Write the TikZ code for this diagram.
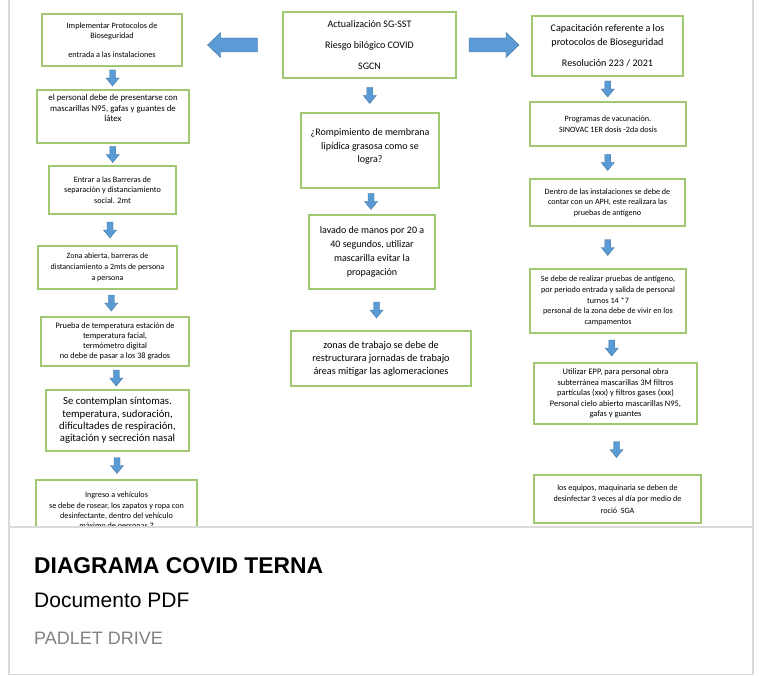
\documentclass[tikz,border=0pt]{standalone}
\usepackage{fontspec}
\setmainfont{Liberation Sans}
\newfontfamily\calibri{Carlito}
\usetikzlibrary{calc}

\definecolor{boxgreen}{RGB}{160,200,115}
\definecolor{arrowblue}{RGB}{91,155,213}
\definecolor{arrowedge}{RGB}{65,113,156}
\definecolor{cardgray}{RGB}{218,218,218}
\definecolor{subgray}{RGB}{130,130,130}

\newcommand{\boxfont}[2]{\calibri\fontsize{#1}{#2}\selectfont}

% small block arrow halfway between two boxes
\newcommand{\flowdown}[2]{%
  \coordinate (m) at ($(#1.south)!0.5!(#2.north)$);
  \filldraw[arrowbody] ($(m)+(-3,-8)$) -- ++(6,0) -- ++(0,8) -- ++(3.5,0)
    -- ++(-6.5,8) -- ++(-6.5,-8) -- ++(3.5,0) -- cycle;}

% big block arrow, #3 = 1 points right, -1 points left
\newcommand{\flowside}[3]{%
  \coordinate (m) at ($(#1)!0.5!(#2)$);
  \begin{scope}[shift={(m)}, xscale=#3]
    \filldraw[arrowbody] (-25,-7) -- (12,-7) -- (12,-12.5) -- (25,0)
      -- (12,12.5) -- (12,7) -- (-25,7) -- cycle;
  \end{scope}}

\begin{document}
\begin{tikzpicture}[x=1pt, y=-1pt,
    box/.style={draw=boxgreen, line width=1.3pt, fill=white, align=center, inner sep=2pt},
    arrowbody/.style={fill=arrowblue, draw=arrowedge, line width=0.4pt},
    caption/.style={anchor=base west, inner sep=0pt}]
    \useasboundingbox (0,0) rectangle (759,676);

    \begin{scope}
    \clip (9,0) rectangle (753,527);

    % left column
    \node[box, minimum width=140, minimum height=52, font=\boxfont{8.2}{10.5}]
        (imp) at (112,40) {Implementar Protocolos de\\Bioseguridad\\[8pt]entrada a las instalaciones};
    \node[box, minimum width=152, minimum height=53, font=\boxfont{8.8}{10.5}]
        (n95) at (113,116.5) {el personal debe de presentarse con\\mascarillas N95, gafas y guantes de\\l\'atex\\[6pt]\mbox{}};
    \node[box, minimum width=127, minimum height=48, font=\boxfont{8.2}{10.5}]
        (barr) at (112.5,190) {Entrar a las Barreras de\\separaci\'on y distanciamiento\\social. 2mt};
    \node[box, minimum width=139, minimum height=43, font=\boxfont{8}{11}]
        (zona) at (107.5,267.5) {Zona abierta, barreras de\\distanciamiento a 2mts de persona\\a persona};
    \node[box, minimum width=148, minimum height=49, font=\boxfont{8.3}{10}]
        (temp) at (115,341.5) {Prueba de temperatura estaci\'on de\\temperatura facial,\\term\'ometro digital\\no debe de pasar a los 38 grados};
    \node[box, minimum width=143, minimum height=61, font=\boxfont{10.7}{12.4}]
        (sint) at (117.5,420.5) {Se contemplan s\'intomas.\\temperatura, sudoraci\'on,\\dificultades de respiraci\'on,\\agitaci\'on y secreci\'on nasal};
    \node[box, minimum width=161, minimum height=62, font=\boxfont{8.15}{10.3}]
        (veh) at (116.5,511) {Ingreso a veh\'iculos\\se debe de rosear, los zapatos y ropa con\\desinfectante, dentro del veh\'iculo\\m\'aximo de personas 7};

    % middle column
    \node[box, minimum width=173, minimum height=66, font=\boxfont{10}{11}]
        (act) at (369.5,45) {Actualizaci\'on SG-SST\\[10pt]Riesgo bil\'ogico COVID\\[10pt]SGCN};
    \node[box, minimum width=138, minimum height=75, font=\boxfont{10}{13.5}]
        (memb) at (370,150.5) {¿Rompimiento de membrana\\lip\'idica grasosa como se\\logra?\\[-4pt]\mbox{}};
    \node[box, minimum width=126, minimum height=74, font=\boxfont{10}{13.8}]
        (lav) at (372,252) {lavado de manos por 20 a\\40 segundos, utilizar\\mascarilla evitar la\\propagaci\'on};
    \node[box, minimum width=180, minimum height=55, font=\boxfont{10.2}{13}]
        (zon) at (381,358.5) {zonas de trabajo se debe de\\restructurara jornadas de trabajo\\\'areas mitigar las aglomeraciones};

    % right column
    \node[box, minimum width=151, minimum height=60, font=\boxfont{10.1}{14}]
        (cap) at (607.5,46) {Capacitaci\'on referente a los\\protocolos de Bioseguridad\\[7pt]Resoluci\'on 223 / 2021};
    \node[box, minimum width=156, minimum height=44, font=\boxfont{8.15}{11}]
        (vac) at (608,124) {Programas de vacunaci\'on.\\SINOVAC 1ER dosis -2da dosis};
    \node[box, minimum width=155, minimum height=47, font=\boxfont{8.1}{10.6}]
        (aph) at (607.5,202.5) {Dentro de las instalaciones se debe de\\contar con un APH, este realizara las\\pruebas de ant\'igeno};
    \node[box, minimum width=156, minimum height=64, font=\boxfont{8.15}{10.7}]
        (ant) at (608,301) {Se debe de realizar pruebas de ant\'igeno,\\por periodo entrada y salida de personal\\turnos 14 *7\\personal de la zona debe de vivir en los\\campamentos};
    \node[box, minimum width=163, minimum height=61, font=\boxfont{8.4}{10.5}]
        (epp) at (615.5,393.5) {Utilizar EPP, para personal obra\\subterr\'anea mascarillas 3M filtros\\part\'iculas (xxx) y filtros gases (xxx)\\Personal cielo abierto mascarillas N95,\\gafas y guantes};
    \node[box, minimum width=167, minimum height=48, font=\boxfont{8.1}{11.5}]
        (equ) at (617.5,499) {los equipos, maquinaria se deben de\\desinfectar 3 veces al d\'ia por medio de\\roci\'o~ SGA};

    \flowside{act.west}{imp.east |- act.west}{-1}
    \flowside{act.east}{cap.west |- act.east}{1}

    \flowdown{imp}{n95}
    \flowdown{n95}{barr}
    \flowdown{barr}{zona}
    \flowdown{zona}{temp}
    \flowdown{temp}{sint}
    \flowdown{sint}{veh}
    \flowdown{act}{memb}
    \flowdown{memb}{lav}
    \flowdown{lav}{zon}
    \flowdown{cap}{vac}
    \flowdown{vac}{aph}
    \flowdown{aph}{ant}
    \flowdown{ant}{epp}
    \flowdown{epp}{equ}
    \end{scope}

    % card frame
    \draw[cardgray, line width=1.5pt] (9,0) -- (9,674.5) -- (753,674.5) -- (753,0);
    \draw[cardgray, line width=1.5pt] (9,527) -- (753,527);

    \node[caption, font=\fontsize{22.8}{27}\selectfont\bfseries] (title) at (34,573) {DIAGRAMA COVID TERNA};
    \node[caption, font=\fontsize{21}{25}\selectfont] (kind) at (34,607) {Documento PDF};
    \node[caption, text=subgray, font=\fontsize{18}{22}\selectfont] (src) at (34,644) {PADLET DRIVE};
\end{tikzpicture}
\end{document}
